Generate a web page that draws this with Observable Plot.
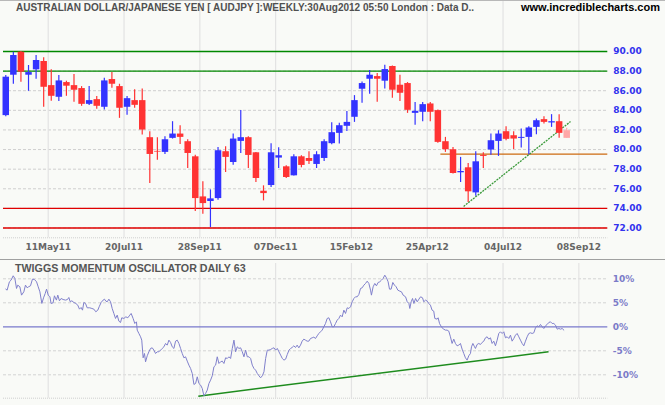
<!DOCTYPE html>
<html><head><meta charset="utf-8">
<script src="https://cdn.jsdelivr.net/npm/d3@7"></script>
<script src="https://cdn.jsdelivr.net/npm/@observablehq/plot@0.6"></script>
<style>
html,body{margin:0;padding:0;background:#f9faf7;}
#wrap{position:relative;width:665px;height:405px;background:#f9faf7;overflow:hidden;}
.t{position:absolute;white-space:nowrap;font-weight:bold;font-family:"Liberation Sans",Arial,sans-serif;z-index:5;}
#sep{position:absolute;left:0;top:258.5px;width:665px;height:1.5px;background:#a0a0a0;z-index:4;}
#topline{position:absolute;left:0;top:0;width:665px;height:1px;background:#b8b8b8;z-index:4;}
svg{overflow:visible;}
</style></head><body>
<div id="wrap">
  <div id="topDiv" style="position:absolute;left:0;top:0"></div>
  <div id="botDiv" style="position:absolute;left:0;top:260px"></div>
  <div id="topline"></div>
  <div id="sep"></div>
  <div class="t" style="left:16px;top:2px;font-size:10px;color:#505050;">AUSTRALIAN DOLLAR/JAPANESE YEN [ AUDJPY ]:WEEKLY:30Aug2012 05:50 London : Data D..</div>
  <div class="t" style="left:521px;top:1px;font-size:11px;color:#000;">www.incrediblecharts.com</div>
  <div class="t" style="left:15px;top:262px;font-size:10.7px;color:#555;">TWIGGS MOMENTUM OSCILLATOR DAILY 63</div>
</div>
<script>
// ---- weekly candles (AUD/JPY), one per week, oldest first ----
const open  = [83.46,87.58,89.93,87.58,88.13,88.98,86.52,85.33,86.83,86.52,86.22,84.61,85.09,84.31,87.14,86.42,84.31,84.99,84.99,81.21,79.81,79.71,81.14,81.58,80.8,79.26,75.17,74.7,75.0,79.78,78.68,80.83,81.21,79.67,75.75,76.33,79.13,78.24,77.32,79.26,79.09,78.48,79.09,80.6,81.65,82.37,83.29,86.15,87.17,87.44,86.97,88.47,86.56,86.73,83.69,83.8,84.65,83.97,80.8,79.98,77.63,78.14,75.58,79.4,79.95,80.83,81.82,81.41,81.14,81.24,82.26,83.05,82.71,82.84,81.92];
const high  = [87.55,89.93,90.0,88.57,89.59,89.35,88.13,87.55,86.97,87.65,86.42,86.42,85.4,87.27,87.85,86.66,85.4,86.11,86.18,81.82,81.21,81.31,82.84,82.43,81.0,79.43,76.71,75.89,80.22,80.29,81.58,83.97,81.31,79.7,76.3,80.6,80.18,78.34,79.47,79.37,79.78,79.78,81.0,82.74,82.67,83.87,85.5,86.9,88.06,87.75,88.6,88.53,87.58,86.83,84.79,84.79,84.79,84.04,81.24,80.22,79.2,78.58,79.78,79.67,81.58,81.92,82.33,81.82,82.09,82.33,83.12,83.35,83.56,83.56,82.16];
const low   = [83.35,86.66,86.86,85.94,87.17,84.31,84.92,84.89,85.43,84.82,84.41,84.48,84.1,84.04,86.25,83.18,83.49,84.21,81.48,76.54,78.92,79.5,81.07,80.52,78.07,73.67,73.4,72.05,74.83,77.66,78.41,79.6,78.07,76.64,74.77,76.13,78.07,77.05,77.3,78.14,78.48,78.07,78.79,80.49,80.56,81.85,82.77,84.72,85.64,84.82,86.18,85.23,84.89,83.69,82.47,82.84,82.84,80.63,79.71,77.5,76.64,74.6,75.24,78.07,79.43,79.3,80.9,80.01,80.15,79.47,81.51,82.6,82.26,81.14,81.14];
const close = [87.38,89.59,87.89,87.85,89.08,86.35,85.43,87.0,86.46,86.05,84.61,84.99,84.41,87.0,86.66,84.21,85.19,84.51,81.99,79.5,79.74,81.0,81.58,81.24,79.6,75.0,74.49,74.97,79.88,79.2,81.07,81.21,79.4,77.05,75.51,79.67,79.37,77.15,79.26,78.38,78.79,79.47,80.8,81.72,82.43,82.77,84.99,86.73,87.58,87.17,88.16,86.05,85.74,84.0,83.9,84.58,83.8,80.73,79.98,77.56,77.76,75.69,78.75,79.3,80.9,81.58,81.04,81.07,81.24,82.2,82.94,82.77,82.84,81.65,81.14];
const daysPerWeek = 5;

// ---- x axis ticks (trading-day index) and labels ----
const tickDays   = [28,78,128,178,228,278,328,378];
const tickLabels = ["11May11","20Jul11","28Sep11","07Dec11","15Feb12","25Apr12","04Jul12","08Sep12"];

// ---- price levels ----
const priceTicks   = [72,74,76,78,80,82,84,86,88,90];
const greenLevels  = [88,90];
const redLevels    = [72,74];
const supportLevel = 79.54, supportFromDay = 287;
const priceTrend   = [{d1:302, p1:74.2, d2:372.5, p2:82.85}];

// ---- daily momentum oscillator (trading-day index, %) ----
const oscDay = [0,0.9,2.4,3.5,4.9,6.0,7.1,7.9,9.3,10.4,11.9,13.0,14.1,15.0,16.3,17.6,18.9,20.3,21.4,22.5,23.8,24.9,26.0,26.9,28.0,29.1,29.9,31.2,32.1,33.4,34.3,35.4,36.5,37.8,39.4,40.7,41.6,42.5,43.6,44.9,46.2,47.5,48.6,49.7,50.6,51.5,52.6,53.7,55.4,56.8,58.1,59.4,60.7,61.6,62.9,64.2,65.1,66.0,66.9,68.0,69.1,70.2,71.3,72.4,73.5,74.6,75.7,76.5,77.9,79.2,80.5,81.8,82.7,84.0,85.1,86.2,86.7,87.8,88.9,89.7,90.6,91.5,
92.2,93.3,94.4,95.5,96.6,97.7,98.8,99.9,101.0,102.1,103.2,104.3,105.4,106.5,107.6,108.7,109.8,110.9,112.0,113.1,114.2,115.3,116.4,117.5,118.6,119.7,120.8,121.9,123.0,124.1,125.2,126.3,127.4,128.5,129.6,130.7,131.8,132.9,134.0,135.1,136.2,137.3,138.4,139.5,140.6,141.7,142.8,143.9,145.0,146.1,147.2,148.3,149.4,150.5,151.6,152.7,153.8,154.9,156.0,157.1,158.2,159.3,160.4,161.5,162.6,163.7,164.8,165.9,167.0,168.1,169.2,170.3,171.4,172.5,173.6,174.7,175.8,176.9,178.0,179.1,180.2,181.3,182.4,183.5,184.6,185.7,186.8,187.9,
188.9,190.0,191.1,192.2,193.3,194.4,195.5,196.6,197.7,198.8,199.9,201.0,202.1,203.2,204.3,205.4,206.5,207.6,208.7,209.8,210.9,212.0,213.1,214.2,215.3,216.4,217.5,218.6,219.7,220.8,221.9,223.0,224.1,225.2,226.3,227.4,228.5,229.6,230.7,231.8,232.9,234.0,235.1,236.2,237.3,238.4,239.5,240.6,241.2,242.3,243.4,244.5,245.6,246.7,247.8,248.9,250.0,251.1,252.2,253.1,254.2,255.3,256.4,257.5,258.6,259.9,261.0,262.1,263.7,264.8,265.9,266.5,267.4,268.3,269.2,270.3,271.4,272.5,273.6,274.9,275.7,276.9,278.0,279.0,280.1,281.2,282.3,283.0,
284.5,285.2,286.1,286.7,287.8,288.9,290.0,291.1,292.2,293.3,294.4,295.5,296.6,297.7,298.8,299.9,301.0,302.1,303.2,304.3,305.4,306.5,307.2,308.1,309.2,309.8,310.9,312.0,313.1,314.2,315.3,316.4,317.5,318.6,319.7,320.8,321.9,323.0,324.1,325.2,326.3,327.4,328.5,329.6,330.7,331.8,332.9,334.0,335.1,336.2,337.3,338.4,339.5,340.6,341.7,342.8,343.9,345.0,346.1,347.2,348.3,349.4,350.5,351.6,352.7,353.8,354.9,356.0,357.1,358.2,359.3,360.4,361.5,362.6,363.7,364.8,365.9,367.0,368.1];
const oscPct = [7.85,7.64,9.38,9.72,10.63,10.07,7.99,8.68,8.33,6.60,7.29,8.68,8.13,8.33,8.54,9.93,9.86,9.38,8.33,7.29,4.86,6.04,6.94,7.85,6.60,6.25,4.86,5.00,6.46,5.56,6.60,5.42,5.90,5.69,5.56,5.69,6.11,5.21,5.42,5.07,4.86,4.51,3.68,4.03,3.47,5.07,4.86,3.96,3.96,3.82,3.68,3.13,3.47,4.17,5.07,5.56,5.76,5.35,5.21,5.76,5.21,3.82,2.78,1.74,2.43,1.18,0.90,1.88,1.74,2.08,1.88,2.43,2.78,1.74,0.69,1.04,-0.69,-1.39,-2.08,-2.78,-6.46,-5.56,
-7.3,-6.04,-5.21,-4.51,-4.38,-4.86,-5.56,-5.21,-5.21,-4.86,-4.51,-4.17,-3.47,-3.82,-2.78,-3.26,-4.17,-4.51,-2.99,-2.78,-3.47,-4.51,-5.56,-6.46,-6.25,-7.15,-7.99,-8.68,-9.72,-12.01,-11.81,-10.42,-11.81,-12.15,-12.85,-14.38,-13.89,-13.19,-11.81,-11.11,-10.21,-8.33,-7.99,-6.25,-7.64,-7.29,-7.15,-7.64,-6.46,-6.60,-6.25,-6.60,-4.51,-2.78,-5.21,-4.17,-4.51,-4.38,-5.21,-6.25,-4.86,-6.25,-6.25,-6.60,-7.99,-8.68,-9.03,-9.72,-10.21,-10.63,-10.21,-9.38,-6.60,-4.86,-4.86,-4.72,-4.51,-4.38,-4.86,-4.51,-5.21,-5.90,-6.60,-6.94,-6.74,-5.76,-4.86,-4.51,
-4.3,-3.96,-4.31,-3.82,-4.38,-3.82,-2.99,-2.57,-2.78,-2.99,-2.99,-2.43,-2.29,-2.15,-2.43,-1.88,-1.39,-1.04,-0.69,0,0.69,1.74,1.88,1.04,0,0,0.69,1.39,1.74,2.43,2.08,3.47,2.78,3.96,3.82,4.17,5.21,5.90,6.25,6.25,6.74,7.99,8.13,8.68,9.03,9.51,9.03,7.64,6.60,8.33,9.03,8.54,9.24,9.38,9.72,10.07,10.76,10.21,9.38,7.85,7.85,9.24,8.68,8.33,7.64,7.43,7.29,6.60,6.25,5.21,4.86,3.82,5.21,5.90,4.86,5.90,5.21,5.76,6.25,6.04,5.21,5.56,5.35,4.86,4.51,3.47,3.26,1.74,
1.60,1.88,0.69,0.35,-0.21,-0.49,-0.69,-0.69,-0.90,-2.08,-3.47,-2.57,-3.47,-3.96,-3.82,-3.47,-4.65,-5.56,-6.46,-6.94,-6.04,-5.56,-4.17,-3.47,-4.17,-4.51,-3.68,-3.47,-3.68,-3.26,-2.99,-2.29,-2.08,-2.57,-2.29,-3.47,-2.99,-3.96,-2.78,-1.39,-1.04,-1.39,-1.04,-2.29,-2.08,-2.43,-1.74,-2.99,-2.43,-1.74,-1.39,-2.08,-2.78,-3.47,-3.96,-2.99,-2.08,-1.39,-1.25,-1.39,-1.25,-0.21,0.21,0,0.49,0,-0.35,0.21,0.49,0.90,1.04,0.69,0.69,0.35,-0.49,-0.35,-0.49,-0.35,-0.69];
const pctTicks  = [10,5,0,-5,-10];
const oscTrend  = [{d1:127, p1:-14.45, d2:358, p2:-5.2}];

// ---- build tables ----
const candles = open.map((o, i) => ({
  d: i * daysPerWeek, o, h: high[i], l: low[i], c: close[i],
  col: i === open.length - 1 ? "#ffa8a8" : (close[i] >= o ? "#3333ff" : "#ff3333")
}));
const osc = oscDay.map((d, i) => ({d, v: oscPct[i]}));

const xDomain = [-1.5, 397.1];
const common = {width: 665, marginLeft: 3, marginRight: 57.7, style: {background: "transparent", overflow: "visible"}};
const lblFont = "DejaVu Sans, Verdana, sans-serif";

const priceChart = Plot.plot({
  ...common, height: 260, marginTop: 0, marginBottom: 22.7,
  x: {domain: xDomain, axis: null},
  y: {domain: [71.0, 95.2], axis: null},
  color: {type: "identity"},
  marks: [
    Plot.gridY(priceTicks, {stroke: "#cfcfcf", strokeOpacity: 1, strokeDasharray: "3,2"}),
    Plot.gridX(tickDays, {stroke: "#e3e3e3", strokeOpacity: 1, strokeWidth: 1.2}),
    Plot.ruleY([71.0], {stroke: "#cfcfcf", strokeDasharray: "1,1"}),
    Plot.ruleY(greenLevels, {stroke: "#008800", strokeWidth: 1.4}),
    Plot.ruleY(redLevels, {stroke: "#e00000", strokeWidth: 1.4}),
    Plot.ruleY([supportLevel], {x1: supportFromDay, x2: xDomain[1], stroke: "#cc6a10", strokeWidth: 1.3}),
    Plot.link(priceTrend, {x1: "d1", y1: "p1", x2: "d2", y2: "p2", stroke: "#3a9a3a", strokeWidth: 1.3, strokeDasharray: "2,1"}),
    Plot.ruleX(candles, {x: "d", y1: "l", y2: "h", stroke: "col", strokeWidth: 1.2}),
    Plot.ruleX(candles, {x: "d", y1: "o", y2: "c", stroke: "col", strokeWidth: 6.5}),
    Plot.text(priceTicks, {y: d => d, frameAnchor: "right", dx: 5.5, textAnchor: "start", text: d => d.toFixed(2),
      fill: "#3333ee", fontWeight: "bold", fontSize: 9, fontFamily: lblFont}),
    Plot.text(tickDays, {x: d => d, frameAnchor: "bottom", dy: 12, text: (d, i) => tickLabels[i],
      fill: "#666", fontWeight: "bold", fontSize: 9, fontFamily: lblFont})
  ]
});
document.getElementById("topDiv").appendChild(priceChart);

const oscChart = Plot.plot({
  ...common, height: 145, marginTop: 3, marginBottom: 7.3,
  x: {domain: xDomain, axis: null},
  y: {domain: [-14.875, 13.19], axis: null},
  marks: [
    Plot.gridY(pctTicks.filter(d => d !== 0), {stroke: "#d3d3d3", strokeOpacity: 1, strokeDasharray: "3,2"}),
    Plot.gridX(tickDays, {stroke: "#e3e3e3", strokeOpacity: 1, strokeWidth: 1.2}),
    Plot.ruleY([-14.875], {stroke: "#cfcfcf", strokeDasharray: "1,1"}),
    Plot.ruleY([0], {stroke: "#7878cc", strokeWidth: 1.3}),
    Plot.link(oscTrend, {x1: "d1", y1: "p1", x2: "d2", y2: "p2", stroke: "#1e8c1e", strokeWidth: 1.5}),
    Plot.line(osc, {x: "d", y: "v", stroke: "#8080cc", strokeWidth: 1}),
    Plot.text(pctTicks, {y: d => d, frameAnchor: "right", dx: 5, textAnchor: "start", text: d => d + "%",
      fill: "#7b7bc8", fontWeight: "bold", fontSize: 9, fontFamily: lblFont})
  ]
});
document.getElementById("botDiv").appendChild(oscChart);
</script>
</body></html>
